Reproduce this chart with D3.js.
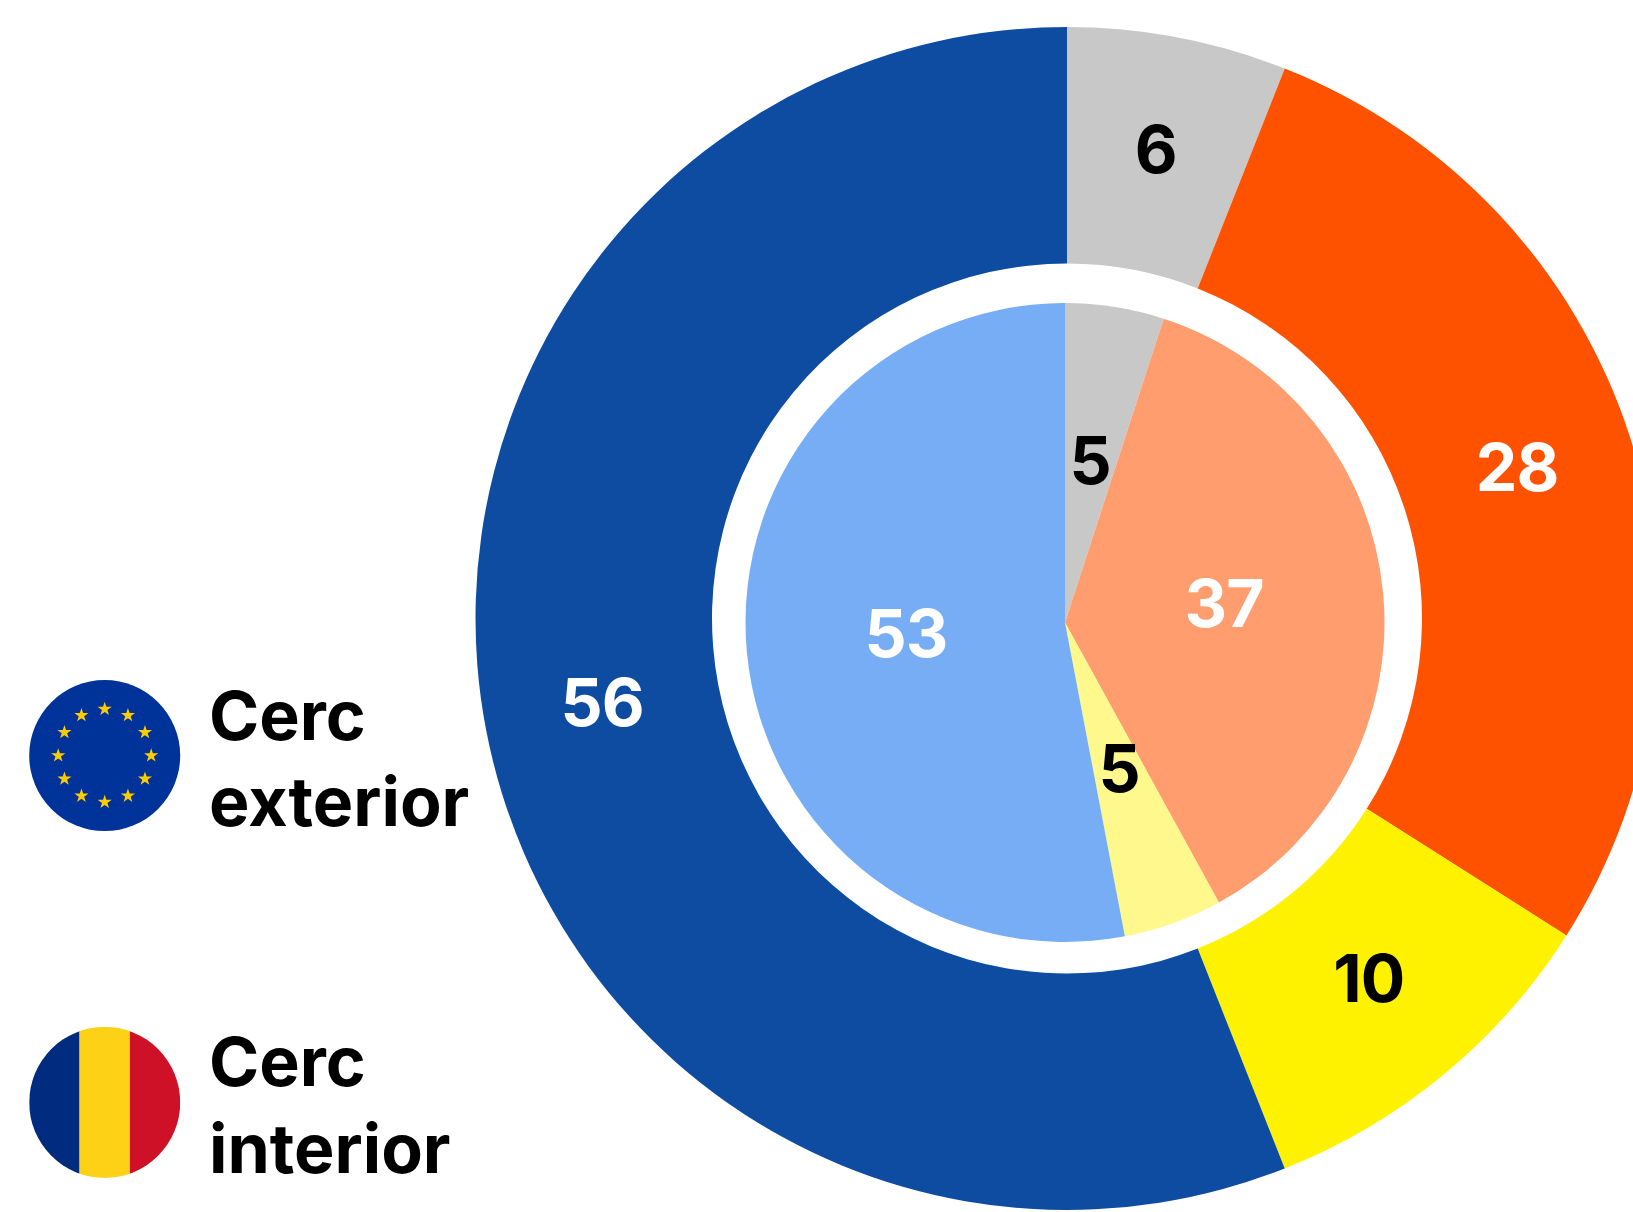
<!doctype html>
<html lang="en">
  <head>
    <meta charset="UTF-8" />
    <title>Cerc exterior / Cerc interior</title>
    <script src="https://d3js.org/d3.v7.min.js"></script>
    <style>
      html, body {
        margin: 0;
        background: #fff;
      }
      svg {
        display: block;
      }
      text {
        font-family: Inter, Lato, sans-serif;
        font-weight: 700;
      }
    </style>
  </head>
  <body>
    <svg width="1633" height="1212"></svg>
    <script>
      // Data, clockwise from 12 o'clock
      const outerValues = [6, 28, 10, 56];
      const outerColors = ['#c8c8c8', '#ff5200', '#fff200', '#0d4ca0'];
      const outerText = ['#000', '#fff', '#000', '#fff'];

      const innerValues = [5, 37, 5, 53];
      const innerColors = ['#c8c8c8', '#ff9d6f', '#fff88c', '#76adf5'];
      const innerText = ['#000', '#fff', '#000', '#fff'];

      const legendLabels = [
        ['Cerc', 'exterior'],
        ['Cerc', 'interior'],
      ];
      const flagStripes = ['#002b7f', '#fcd116', '#ce1126'];

      const svg = d3.select('svg');
      const pie = d3.pie().sort(null).value((d) => d);

      function drawRing(values, colors, textColors, cx, cy, r0, r1) {
        const arc = d3.arc().innerRadius(r0).outerRadius(r1);
        const g = svg.append('g').attr('transform', `translate(${cx},${cy})`);
        const slices = pie(values);

        g.selectAll('path')
          .data(slices)
          .enter()
          .append('path')
          .attr('d', arc)
          .attr('fill', (d, i) => colors[i]);

        g.selectAll('text')
          .data(slices)
          .enter()
          .append('text')
          .attr('transform', (d) => `translate(${arc.centroid(d)})`)
          .attr('dy', '0.29em')
          .attr('text-anchor', 'middle')
          .attr('fill', (d, i) => textColors[i])
          .style('font-size', '66px')
          .style('letter-spacing', '-1px')
          .text((d) => d.data);
      }

      drawRing(outerValues, outerColors, outerText, 1067, 618.5, 355, 591.5);
      drawRing(innerValues, innerColors, innerText, 1065, 622.5, 0, 319.5);

      // Legend flags
      const flagR = 75.5;
      const flagX = 104.7;
      const legendY = [755.6, 1102.4];

      const eu = svg.append('g').attr('transform', `translate(${flagX},${legendY[0]})`);
      eu.append('circle').attr('r', flagR).attr('fill', '#003399');
      eu.selectAll('path')
        .data(d3.range(12))
        .enter()
        .append('path')
        .attr('d', d3.symbol(d3.symbolStar, 62))
        .attr('fill', '#ffcc00')
        .attr('transform', (d) => {
          const a = (d / 12) * 2 * Math.PI;
          return `translate(${46.5 * Math.sin(a)},${-46.5 * Math.cos(a)})`;
        });

      svg.append('clipPath')
        .attr('id', 'roClip')
        .append('circle')
        .attr('r', flagR);

      const stripeX = d3
        .scaleBand()
        .domain(d3.range(flagStripes.length))
        .range([-75.5, 75.5]);

      svg.append('g')
        .attr('transform', `translate(${flagX},${legendY[1]})`)
        .append('g')
        .attr('clip-path', 'url(#roClip)')
        .selectAll('rect')
        .data(flagStripes)
        .enter()
        .append('rect')
        .attr('x', (d, i) => stripeX(i))
        .attr('y', -flagR)
        .attr('width', stripeX.bandwidth())
        .attr('height', flagR * 2)
        .attr('fill', (d) => d);

      // Legend labels
      const labelBaselines = [[740, 826], [1086, 1173]];
      legendLabels.forEach((lines, i) => {
        svg.selectAll(null)
          .data(lines)
          .enter()
          .append('text')
          .attr('x', 209)
          .attr('y', (d, j) => labelBaselines[i][j])
          .attr('fill', '#000')
          .style('font-size', '68px')
          .text((d) => d);
      });
    </script>
  </body>
</html>
